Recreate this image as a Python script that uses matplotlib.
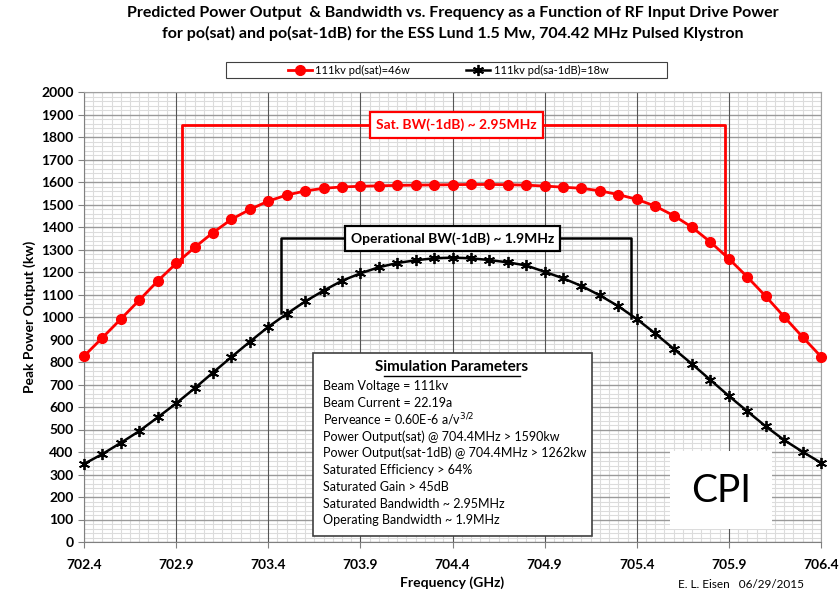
import numpy as np
import matplotlib
matplotlib.use("Agg")
import matplotlib.pyplot as plt
from matplotlib.patches import Rectangle

plt.rcParams['font.family'] = ['Lato', 'DejaVu Sans']

# frequency sweep (GHz), one point every 0.1
freq = [702.4, 702.5, 702.6, 702.7, 702.8, 702.9, 703.0, 703.1, 703.2, 703.3,
        703.4, 703.5, 703.6, 703.7, 703.8, 703.9, 704.0, 704.1, 704.2, 704.3,
        704.4, 704.5, 704.6, 704.7, 704.8, 704.9, 705.0, 705.1, 705.2, 705.3,
        705.4, 705.5, 705.6, 705.7, 705.8, 705.9, 706.0, 706.1, 706.2, 706.3,
        706.4]

# po(sat), drive 46 w
p_sat = [826, 908, 991, 1075, 1160, 1238, 1309, 1375, 1434, 1478,
         1515, 1542, 1560, 1572, 1578, 1581, 1583, 1585, 1586, 1587,
         1588, 1589, 1589, 1588, 1586, 1582, 1577, 1572, 1561, 1544,
         1523, 1493, 1451, 1399, 1333, 1259, 1178, 1092, 1001, 911,
         824]

# po(sat-1dB), drive 18 w
p_1db = [347, 391, 441, 493, 554, 616, 683, 753, 822, 890,
         956, 1014, 1069, 1117, 1161, 1194, 1221, 1240, 1252, 1261,
         1264, 1261, 1253, 1243, 1229, 1201, 1172, 1138, 1096, 1048,
         991, 927, 859, 791, 720, 649, 581, 514, 453, 401,
         352]

sat_bw = (702.93, 705.88)
op_bw = (703.47, 705.37)

params = [
    "Beam Voltage = 111kv",
    "Beam Current = 22.19a",
    r"Perveance = 0.60E-6 a/v$^{3/2}$",
    "Power Output(sat) @ 704.4MHz > 1590kw",
    "Power Output(sat-1dB) @ 704.4MHz > 1262kw",
    "Saturated Efficiency > 64%",
    "Saturated Gain > 45dB",
    "Saturated Bandwidth ~ 2.95MHz",
    "Operating Bandwidth ~ 1.9MHz",
]

fig = plt.figure(figsize=(8.39, 5.92), dpi=100)
ax = fig.add_axes([84 / 839, 1 - 542 / 592, 737 / 839, 450 / 592])

ax.set_xlim(702.4, 706.4)
ax.set_ylim(0, 2000)
xmaj = np.round(np.arange(702.4, 706.41, 0.5), 2)
xmin = [v for v in np.round(np.arange(702.4, 706.41, 0.05), 2) if v not in xmaj]
ymaj = np.arange(0, 2001, 100)
ymin = [v for v in np.arange(0, 2001, 20) if v % 100]
ax.set_xticks(xmaj)
ax.set_xticks(xmin, minor=True)
ax.set_yticks(ymaj)
ax.set_yticks(ymin, minor=True)
ax.set_xticklabels([f"{v:.1f}" for v in xmaj])

# light minor grid, then solid major lines on top of it
ax.grid(which='minor', color='#dcdcdc', linewidth=0.8)
ax.set_axisbelow(True)
for y in ymaj:
    ax.axhline(y, color='#9a9a9a', lw=1.0, zorder=0.8)
for x in xmaj:
    ax.axvline(x, color='#555555', lw=0.8, zorder=0.9)

ax.tick_params(which='minor', length=0)
ax.tick_params(which='major', length=4, color='#808080', labelsize=10)
for lab in ax.get_xticklabels() + ax.get_yticklabels():
    lab.set_fontweight('bold')
ax.tick_params(axis='x', pad=8)
for side in ['top', 'right']:
    ax.spines[side].set_color('#a0a0a0')
for side in ['left', 'bottom']:
    ax.spines[side].set_color('#808080')

ax.plot(freq, p_sat, color='#ff0000', lw=2.0, marker='o', ms=7,
        label='111kv pd(sat)=46w', zorder=5, clip_on=False)
ax.plot(freq, p_1db, color='black', lw=1.8, marker=(6, 2, 0), ms=8, mew=1.3,
        label='111kv pd(sa-1dB)=18w', zorder=5, clip_on=False)

# bandwidth brackets
ax.plot([sat_bw[0], sat_bw[0], sat_bw[1], sat_bw[1]], [1245, 1853, 1853, 1265],
        color='#ff0000', lw=2.0, zorder=4)
ax.plot([op_bw[0], op_bw[0], op_bw[1], op_bw[1]], [1016, 1350, 1350, 994],
        color='black', lw=1.8, zorder=4)
ax.text(704.42, 1853, "Sat. BW(-1dB) ~ 2.95MHz", color='#ff0000', fontsize=10,
        fontweight='bold', ha='center', va='center', zorder=6,
        bbox=dict(boxstyle='square,pad=0.45', fc='white', ec='#ff0000', lw=1.6))
ax.text(704.40, 1350, "Operational BW(-1dB) ~ 1.9MHz", color='black', fontsize=10,
        fontweight='bold', ha='center', va='center', zorder=6,
        bbox=dict(boxstyle='square,pad=0.45', fc='white', ec='black', lw=1.6))

# simulation parameter box
fig.patches.append(Rectangle((313 / 839, 1 - 536 / 592), 279 / 839, 183 / 592,
                             transform=fig.transFigure, fc='white', ec='#404040',
                             lw=1.2, zorder=7))
fig.text(452 / 839, 1 - 367 / 592, "Simulation Parameters", fontsize=11,
         fontweight='bold', ha='center', va='center', zorder=8)
fig.add_artist(plt.Line2D([384 / 839, 520 / 839], [1 - 376 / 592, 1 - 376 / 592],
                          color='black', lw=1.0, zorder=8))
for i, line in enumerate(params):
    fig.text(323 / 839, 1 - (386 + i * 16.8) / 592, line, fontsize=9,
             ha='left', va='center', zorder=8)

# CPI logo
fig.patches.append(Rectangle((670 / 839, 1 - 529 / 592), 102 / 839, 78 / 592,
                             transform=fig.transFigure, fc='white', ec='none',
                             zorder=7))
fig.text(721 / 839, 1 - 491 / 592, "CPI", fontsize=28, ha='center',
         va='center', zorder=8)

ax.set_xlabel("Frequency (GHz)", fontsize=10, fontweight='bold', labelpad=4)
ax.set_ylabel("Peak Power Output (kw)", fontsize=10, fontweight='bold', labelpad=4)
fig.text(741 / 839, 1 - 585 / 592, "E. L. Eisen   06/29/2015", fontsize=8.5,
         ha='center', va='center')

fig.suptitle("Predicted Power Output  & Bandwidth vs. Frequency as a Function of RF Input Drive Power\n"
             "for po(sat) and po(sat-1dB) for the ESS Lund 1.5 Mw, 704.42 MHz Pulsed Klystron",
             x=453 / 839, fontsize=11.5, fontweight='bold', y=0.99, linespacing=1.5)

# legend with a wide frame drawn separately
fig.patches.append(Rectangle((226 / 839, 1 - 78 / 592), 441 / 839, 16 / 592,
                             transform=fig.transFigure, fc='white', ec='#404040',
                             lw=0.8))
fig.legend(loc='center', bbox_to_anchor=(448 / 839, 1 - 70 / 592), ncol=2,
           fontsize=8, frameon=False, handlelength=2.2, columnspacing=5,
           borderpad=0, borderaxespad=0, handletextpad=0.3)

fig.savefig("out.png", dpi=100)
